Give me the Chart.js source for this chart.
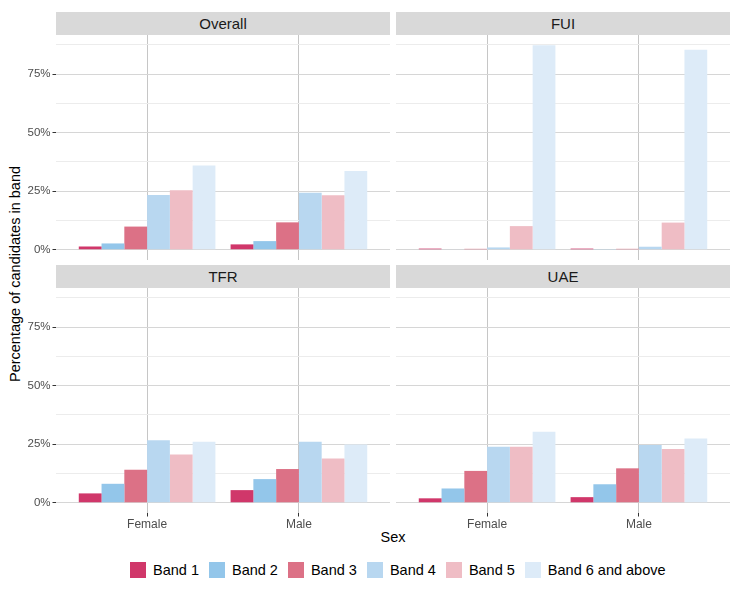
<!DOCTYPE html>
<html>
<head>
<meta charset="utf-8">
<script src="https://cdn.jsdelivr.net/npm/chart.js@4.4.1/dist/chart.umd.min.js"></script>
<style>
  body { margin: 0; background: #fff; width: 745px; height: 591px; position: relative; overflow: hidden;
         font-family: "Liberation Sans", Arial, sans-serif; }
  .strip { position: absolute; height: 23px; line-height: 23px; background: #d9d9d9; color: #1a1a1a;
           font-size: 15px; text-align: center; }
  .panel { position: absolute; }
  .ytitle { position: absolute; left: -135px; top: 265px; width: 300px; height: 18px; line-height: 18px;
            text-align: center; font-size: 14.5px; color: #000; transform: rotate(-90deg); }
  .xtitle { position: absolute; left: 293px; width: 200px; top: 529px; text-align: center; font-size: 14.5px; color: #000; }
  .legend { position: absolute; left: 130px; top: 562px; display: flex; align-items: center; font-size: 14.5px; color: #000; }
  .legend .item { display: flex; align-items: center; margin-right: 10px; }
  .legend .key { width: 16px; height: 16px; margin-right: 7px; }
</style>
</head>
<body>
<div class="ytitle">Percentage of candidates in band</div>
<div class="xtitle">Sex</div>
<div class="legend" id="legend"></div>

<script>
// x categories and bands
const categories = ['Female', 'Male'];
const bands = ['Band 1', 'Band 2', 'Band 3', 'Band 4', 'Band 5', 'Band 6 and above'];
const bandColors = ['#d0376a', '#93c6ea', '#dc7186', '#b8d7f0', '#efbdc5', '#ddebf8'];
const facets = ['Overall', 'FUI', 'TFR', 'UAE'];

// percentage per band, [Female, Male]
const overallValues = [[1.4, 2.3], [2.7, 3.7], [9.9, 11.7], [23.4, 24.3], [25.4, 23.3], [36.0, 33.6]];
const fuiValues = [[0.5, 0.5], [0.2, 0.3], [0.4, 0.4], [1.0, 1.3], [10.1, 11.6], [87.3, 85.4]];
const tfrValues = [[4.0, 5.4], [8.1, 10.1], [14.1, 14.4], [26.7, 26.0], [20.6, 18.9], [26.0, 24.9]];
const uaeValues = [[1.9, 2.4], [6.1, 7.9], [13.6, 14.7], [23.9, 24.7], [23.9, 22.9], [30.3, 27.4]];

const yTicks = [0, 12.5, 25, 37.5, 50, 62.5, 75, 87.5];

Chart.defaults.font.family = '"Liberation Sans", Arial, sans-serif';

// shared y range, ggplot style 5% expansion
const allValues = [overallValues, fuiValues, tfrValues, uaeValues].flat(2);
const yTop = Math.max(...allValues);
const yMin = -0.05 * yTop;
const yMax = yTop * 1.05;

const facetValues = [overallValues, fuiValues, tfrValues, uaeValues];
// panel placement: [left, top, showY, showX]
const layout = [
    { left: 0, top: 35, showY: true, showX: false },
    { left: 396, top: 35, showY: false, showX: false },
    { left: 0, top: 288, showY: true, showX: true },
    { left: 396, top: 288, showY: false, showX: true }
];

function makePanel(i) {
    const L = layout[i];
    const plotW = 334, plotH = 225;
    const w = plotW + (L.showY ? 56 : 0);
    const h = plotH + (L.showX ? 26 : 0);

    // strip header
    const strip = document.createElement('div');
    strip.className = 'strip';
    strip.style.left = (L.showY ? L.left + 56 : L.left) + 'px';
    strip.style.top = (L.top - 23) + 'px';
    strip.style.width = plotW + 'px';
    strip.textContent = facets[i];
    document.body.appendChild(strip);

    const box = document.createElement('div');
    box.className = 'panel';
    box.style.left = L.left + 'px';
    box.style.top = L.top + 'px';
    box.style.width = w + 'px';
    box.style.height = h + 'px';
    const cv = document.createElement('canvas');
    box.appendChild(cv);
    document.body.appendChild(box);

    const values = facetValues[i];
    const datasets = bands.map((b, k) => ({
        label: b,
        data: categories.map((c, j) => ({ x: j + 1, y: values[k][j] })),
        backgroundColor: bandColors[k],
        borderWidth: 0,
        categoryPercentage: 0.9,
        barPercentage: 1
    }));

    return new Chart(cv, {
        type: 'bar',
        data: { datasets },
        options: {
            responsive: true,
            maintainAspectRatio: false,
            animation: false,
            layout: { padding: 0 },
            plugins: { legend: { display: false }, tooltip: { enabled: false } },
            scales: {
                x: {
                    type: 'linear', min: 0.4, max: 2.6, offset: false,
                    afterBuildTicks: s => { s.ticks = categories.map((c, j) => ({ value: j + 1 })); },
                    afterFit: s => { s.height = L.showX ? 26 : 0; s.paddingLeft = 0; s.paddingRight = 0; },
                    border: { display: false },
                    grid: { offset: false, color: '#c6c6c6', lineWidth: 1, drawTicks: L.showX, tickLength: 3.5, tickColor: '#333' },
                    ticks: { display: L.showX, padding: 1, color: '#4d4d4d', font: { size: 12 }, autoSkip: false, maxRotation: 0,
                             callback: v => categories[Math.round(v) - 1] || '' }
                },
                y: {
                    min: yMin, max: yMax,
                    afterBuildTicks: s => { s.ticks = yTicks.map(v => ({ value: v })); },
                    afterFit: s => { s.width = L.showY ? 56 : 0; s.paddingTop = 0; s.paddingBottom = 0; },
                    border: { display: false },
                    grid: {
                        color: c => (c.tick && c.tick.value % 25 === 0) ? '#d6d6d6' : '#ececec',
                        lineWidth: 1, drawTicks: L.showY, tickLength: 3.5,
                        tickColor: c => (c.tick && c.tick.value % 25 === 0) ? '#333' : 'rgba(0,0,0,0)'
                    },
                    ticks: { display: L.showY, padding: 2, color: '#4d4d4d', font: { size: 11.5 }, autoSkip: false,
                             callback: v => (v % 25 === 0) ? v + '%' : '' }
                }
            }
        }
    });
}

facets.forEach((f, i) => makePanel(i));

// legend
const lg = document.getElementById('legend');
bands.forEach((b, k) => {
    const it = document.createElement('div');
    it.className = 'item';
    it.innerHTML = '<span class="key" style="background:' + bandColors[k] + '"></span><span>' + b + '</span>';
    lg.appendChild(it);
});
</script>
</body>
</html>
